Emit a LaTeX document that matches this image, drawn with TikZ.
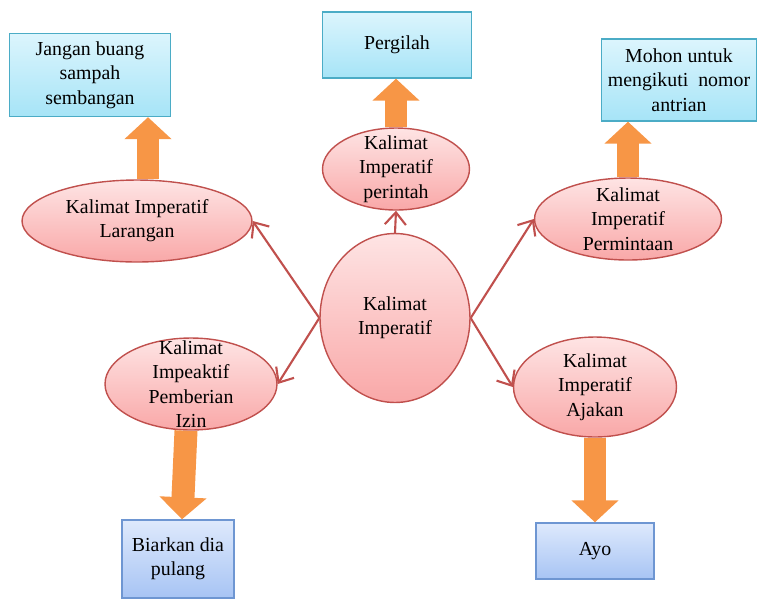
\documentclass[tikz,border=0pt]{standalone}
\usepackage{fontspec}
\setmainfont{Liberation Serif}
\usetikzlibrary{shapes.geometric,arrows.meta}
\definecolor{merah}{RGB}{192,80,77}
\definecolor{pinkatas}{RGB}{254,228,228}
\definecolor{pinkbawah}{RGB}{249,168,168}
\definecolor{biruatas}{RGB}{220,245,253}
\definecolor{birubawah}{RGB}{166,228,247}
\definecolor{birutepi}{RGB}{75,172,198}
\definecolor{nilaatas}{RGB}{222,233,252}
\definecolor{nilabawah}{RGB}{167,196,244}
\definecolor{nilatepi}{RGB}{110,150,210}
\definecolor{oranye}{RGB}{247,150,70}
\tikzset{
    jenis/.style={%
        ellipse, draw=merah, line width=0.8pt,
        top color=pinkatas, bottom color=pinkbawah,
        inner sep=0pt
        },
    contoh/.style={%
        rectangle, draw=birutepi, line width=0.8pt,
        top color=biruatas, bottom color=birubawah,
        align=center, inner sep=0pt
        },
    contohb/.style={%
        contoh, draw=nilatepi,
        top color=nilaatas, bottom color=nilabawah
        },
    panah/.style={draw=merah, line width=1.2pt, -{Straight Barb[length=7pt,width=12pt,line width=1.2pt]}},
    blok/.style={draw=oranye, line width=0.46cm, -{Triangle[width=0.92cm,length=0.44cm]}},
    every label/.style={align=center}
}

\begin{document}
\begin{tikzpicture}[x=0.02cm, y=-0.02cm, font=\fontsize{11.3}{13.8}\selectfont]
\useasboundingbox (0,0) rectangle (762,600);

\node[jenis, minimum width=3cm, minimum height=3.38cm,
  label={center:Kalimat\\Imperatif}] (pusat) at (395,318) {};

\node[jenis, minimum width=2.94cm, minimum height=1.64cm,
  label={center:Kalimat\\Imperatif\\perintah}] (perintah) at (396,169) {};

\node[jenis, minimum width=4.6cm, minimum height=1.64cm,
  label={center:Kalimat Imperatif\\Larangan}] (larangan) at (137,221) {};

\node[jenis, minimum width=3.74cm, minimum height=1.64cm,
  label={center:Kalimat\\Imperatif\\Permintaan}] (permintaan) at (628,219) {};

\node[jenis, minimum width=3.44cm, minimum height=1.84cm,
  label={center:Kalimat\\Impeaktif\\Pemberian\\Izin}] (izin) at (191,384) {};

\node[jenis, minimum width=3.26cm, minimum height=2cm,
  label={center:Kalimat\\Imperatif\\Ajakan}] (ajakan) at (595,387) {};

% contoh kalimat
\node[contoh, minimum width=2.98cm, minimum height=1.32cm] (pergilah) at (397,45) {Pergilah};

\node[contoh, minimum width=3.22cm, minimum height=1.66cm] (jangan) at (90,75) {Jangan buang\\sampah\\sembangan};

\node[contoh, minimum width=3.1cm, minimum height=1.64cm] (mohon) at (679,80) {Mohon untuk\\mengikuti\ \ nomor\\antrian};

\node[contohb, minimum width=2.24cm, minimum height=1.56cm] (biarkan) at (178,559) {Biarkan dia\\pulang};

\node[contohb, minimum width=2.36cm, minimum height=1.12cm] (ayo) at (595,551) {Ayo};

\draw[panah] (pusat.north) -- (perintah.south);
\draw[panah] (pusat.west) -- (larangan.east);
\draw[panah] (pusat.west) -- (izin.east);
\draw[panah] (pusat.east) -- (permintaan.west);
\draw[panah] (pusat.east) -- (ajakan.west);

\draw[blok] (perintah.north) -- (perintah.north |- pergilah.south);
\draw[blok] ([xshift=0.22cm]larangan.north) -- ([xshift=0.22cm]larangan.north |- jangan.south);
\draw[blok] (permintaan.north) -- (permintaan.north |- mohon.south);
\draw[blok] ([xshift=-0.1cm]izin.south) -- ([xshift=0.08cm]biarkan.north);
\draw[blok] (ajakan.south) -- (ayo.north);

\end{tikzpicture}
\end{document}
